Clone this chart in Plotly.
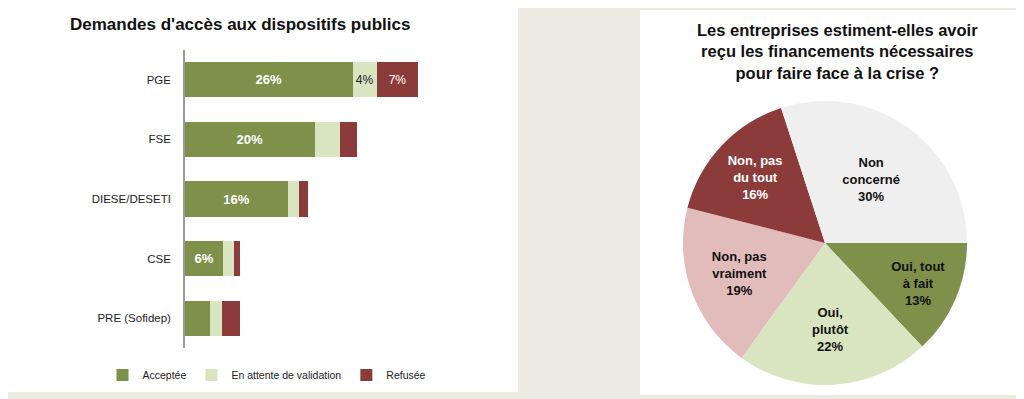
import plotly.graph_objects as go

# ---- data ----
categories = ["PGE", "FSE", "DIESE/DESETI", "CSE", "PRE (Sofidep)"]
acceptee = [26, 20.1, 16, 5.9, 3.9]
attente = [3.7, 4.0, 1.7, 1.7, 1.9]
refusee = [6.5, 2.5, 1.4, 0.9, 2.8]
acceptee_txt = ["26%", "20%", "16%", "6%", ""]
attente_txt = ["4%", "", "", "", ""]
refusee_txt = ["7%", "", "", "", ""]

pie_labels = ["Oui, tout<br>à fait", "Oui,<br>plutôt", "Non, pas<br>vraiment",
              "Non, pas<br>du tout", "Non<br>concerné"]
pie_values = [13, 22, 19, 16, 30]

left_title = "Demandes d'accès aux dispositifs publics"
right_title = ["Les entreprises estiment-elles avoir",
               "reçu les financements nécessaires",
               "pour faire face à la crise ?"]

# ---- style ----
GREEN = "#7E9049"
LIGHT = "#D9E4C0"
RED = "#8C3B3B"
PINK = "#E2BBBB"
GREY = "#EFEFEF"
BG = "#EDEAE2"
FONT = "Liberation Sans"
W, H = 1024, 399
OFF = 8  # page body margin


def px(x):
    return (x - OFF) / W


def py(y):
    return 1 - (y - OFF) / H


fig = go.Figure()

fig.add_trace(go.Bar(
    y=categories, x=acceptee, orientation="h", name="Acceptée",
    marker=dict(color=GREEN, line=dict(width=0)),
    text=acceptee_txt, textposition="inside", insidetextanchor="middle",
    textangle=0, textfont=dict(family=FONT, size=13, color="white", weight="bold"),
    hoverinfo="skip"))
fig.add_trace(go.Bar(
    y=categories, x=attente, orientation="h", name="En attente de validation",
    marker=dict(color=LIGHT, line=dict(width=0)),
    text=attente_txt, textposition="inside", insidetextanchor="middle",
    textangle=0, textfont=dict(family=FONT, size=12, color="#222"),
    hoverinfo="skip"))
fig.add_trace(go.Bar(
    y=categories, x=refusee, orientation="h", name="Refusée",
    marker=dict(color=RED, line=dict(width=0)),
    text=refusee_txt, textposition="inside", insidetextanchor="middle",
    textangle=0, textfont=dict(family=FONT, size=12, color="white"),
    hoverinfo="skip"))

fig.add_trace(go.Pie(
    labels=pie_labels, values=pie_values, sort=False, direction="clockwise",
    rotation=90, marker=dict(colors=[GREEN, LIGHT, PINK, RED, GREY], line=dict(width=0)),
    texttemplate="%{label}<br>%{percent:.0%}", textposition="inside",
    insidetextorientation="horizontal",
    textfont=dict(family=FONT, size=13, weight="bold",
                  color=["#111", "#111", "#111", "white", "#111"]),
    domain=dict(x=[px(683), px(967)], y=[py(385), py(101)]),
    showlegend=False, hoverinfo="skip"))

shapes = [
    dict(type="rect", xref="paper", yref="paper", x0=px(3), x1=px(518),
         y0=py(392), y1=py(4), fillcolor="white", line=dict(width=0), layer="below"),
    dict(type="rect", xref="paper", yref="paper", x0=px(640), x1=px(1018),
         y0=py(395), y1=py(10), fillcolor="white", line=dict(width=0), layer="below"),
]

annotations = [
    dict(text="<b>%s</b>" % left_title, xref="paper", yref="paper",
         x=px(240), y=py(25), showarrow=False, xanchor="center",
         yanchor="middle", font=dict(family=FONT, size=17, color="#111")),
    dict(text="<br>".join("<b>%s</b>" % l for l in right_title), xref="paper",
         yref="paper", x=px(837), y=py(51), showarrow=False, xanchor="center",
         yanchor="middle", align="center",
         font=dict(family=FONT, size=16.5, color="#111")),
]

fig.update_layout(
    width=W, height=H, margin=dict(l=0, r=0, t=0, b=0),
    paper_bgcolor=BG, plot_bgcolor="rgba(0,0,0,0)",
    barmode="stack", bargap=0.41,
    shapes=shapes, annotations=annotations,
    xaxis=dict(domain=[px(185), px(443)], range=[0, 40], visible=False, fixedrange=True),
    yaxis=dict(domain=[py(348), py(50)], autorange="reversed",
               showline=True, linecolor="#999", linewidth=1.5, ticks="",
               showgrid=False, zeroline=False, ticklabelstandoff=10,
               tickfont=dict(family=FONT, size=11.5, color="#222")),
    legend=dict(orientation="h", x=px(267), y=py(375), xanchor="center",
                yanchor="middle", font=dict(family=FONT, size=10.5, color="#222"),
                itemwidth=30, bgcolor="rgba(0,0,0,0)", traceorder="normal"),
    uniformtext=dict(minsize=8),
)

fig.write_html("out.html")
